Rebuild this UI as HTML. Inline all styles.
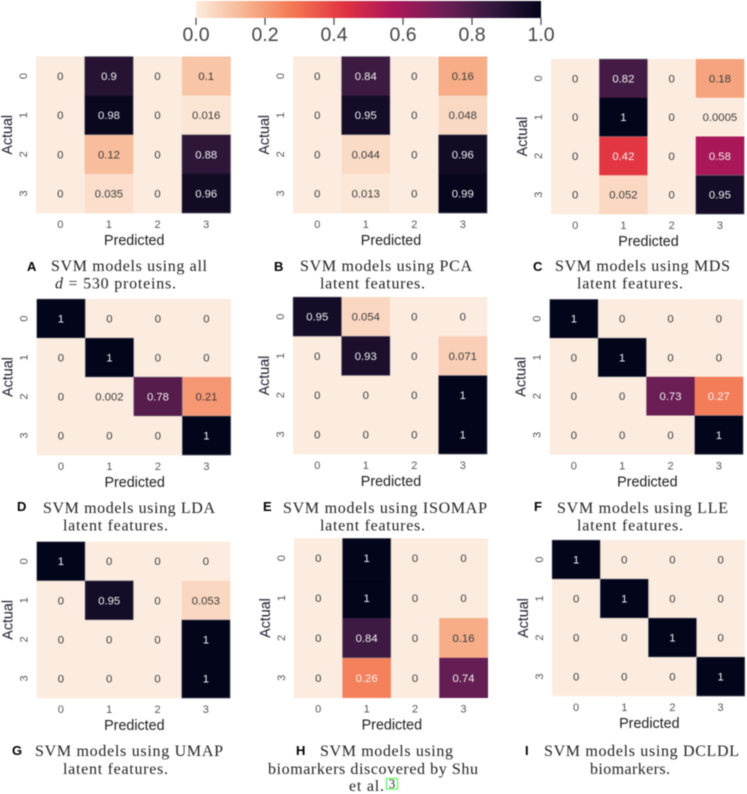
<!DOCTYPE html>
<html lang="en">
<head>
<meta charset="utf-8">
<title>SVM confusion matrices</title>
<style>
html,body{margin:0;padding:0;background:#fff;}
body{width:747px;height:794px;overflow:hidden;}
#figure{display:block;filter:blur(0.45px);}
.cap{font-family:"Liberation Serif","DejaVu Serif",serif;font-size:16px;fill:#222;}
.lab{font-family:"Liberation Sans","DejaVu Sans",sans-serif;font-size:13px;font-weight:bold;fill:#000;}
</style>
</head>
<body>
<svg id="figure" width="747" height="794" viewBox="0 0 747 794" xmlns="http://www.w3.org/2000/svg">
  <defs>
    <linearGradient id="cmap" x1="0" x2="1" y1="0" y2="0"></linearGradient>
  </defs>
  <g id="colorbar"></g>
  <g id="panels"></g>

  <g>
    <text class="lab" x="27" y="271">A</text>
    <text class="cap" x="51" y="271" textLength="156" lengthAdjust="spacing">SVM models using all</text>
    <text class="cap" x="55" y="288.5" textLength="121" lengthAdjust="spacing"><tspan font-style="italic">d</tspan> = 530 proteins.</text>
  </g>
  <g>
    <text class="lab" x="274" y="271">B</text>
    <text class="cap" x="300" y="271" textLength="172" lengthAdjust="spacing">SVM models using PCA</text>
    <text class="cap" x="320" y="288.5" textLength="105" lengthAdjust="spacing">latent features.</text>
  </g>
  <g>
    <text class="lab" x="533" y="271">C</text>
    <text class="cap" x="555" y="271" textLength="175" lengthAdjust="spacing">SVM models using MDS</text>
    <text class="cap" x="577" y="288.5" textLength="106" lengthAdjust="spacing">latent features.</text>
  </g>
  <g>
    <text class="lab" x="17" y="511">D</text>
    <text class="cap" x="43" y="513" textLength="172" lengthAdjust="spacing">SVM models using LDA</text>
    <text class="cap" x="63" y="530.5" textLength="105" lengthAdjust="spacing">latent features.</text>
  </g>
  <g>
    <text class="lab" x="263" y="511">E</text>
    <text class="cap" x="283" y="513" textLength="204" lengthAdjust="spacing">SVM models using ISOMAP</text>
    <text class="cap" x="320" y="530.5" textLength="105" lengthAdjust="spacing">latent features.</text>
  </g>
  <g>
    <text class="lab" x="534" y="511">F</text>
    <text class="cap" x="557" y="513" textLength="171" lengthAdjust="spacing">SVM models using LLE</text>
    <text class="cap" x="577" y="530.5" textLength="106" lengthAdjust="spacing">latent features.</text>
  </g>
  <g>
    <text class="lab" x="12" y="755">G</text>
    <text class="cap" x="35" y="756" textLength="188" lengthAdjust="spacing">SVM models using UMAP</text>
    <text class="cap" x="63" y="774" textLength="105" lengthAdjust="spacing">latent features.</text>
  </g>
  <g>
    <text class="lab" x="296" y="755">H</text>
    <text class="cap" x="320" y="756" textLength="133" lengthAdjust="spacing">SVM models using</text>
    <text class="cap" x="268" y="774" textLength="210" lengthAdjust="spacing">biomarkers discovered by Shu</text>
    <text class="cap" x="349" y="791" textLength="35" lengthAdjust="spacing">et al.</text>
    <rect x="386.5" y="778.5" width="11" height="10.5" fill="none" stroke="#3dff3d" stroke-width="1"></rect>
    <text x="392" y="788" text-anchor="middle" font-family="Liberation Serif, serif" font-size="13" fill="#2a2a2a">3</text>
  </g>
  <g>
    <text class="lab" x="525" y="755">I</text>
    <text class="cap" x="544" y="756" textLength="195" lengthAdjust="spacing">SVM models using DCLDL</text>
    <text class="cap" x="590" y="774" textLength="80" lengthAdjust="spacing">biomarkers.</text>
  </g>
</svg>

<script>
// ---- data ----
const predictedLabels = ["0", "1", "2", "3"];
const actualLabels = ["0", "1", "2", "3"];
const colorbarTicks = [0, 0.2, 0.4, 0.6, 0.8, 1];
const colormapStops = ["#fcecdf", "#f6b48f", "#f37651", "#e13342", "#ad1759", "#701f57", "#35193e", "#03051a"];

const panelA = [[0, 0.9, 0, 0.1], [0, 0.98, 0, 0.016], [0, 0.12, 0, 0.88], [0, 0.035, 0, 0.96]];
const panelB = [[0, 0.84, 0, 0.16], [0, 0.95, 0, 0.048], [0, 0.044, 0, 0.96], [0, 0.013, 0, 0.99]];
const panelC = [[0, 0.82, 0, 0.18], [0, 1, 0, 0.0005], [0, 0.42, 0, 0.58], [0, 0.052, 0, 0.95]];
const panelD = [[1, 0, 0, 0], [0, 1, 0, 0], [0, 0.002, 0.78, 0.21], [0, 0, 0, 1]];
const panelE = [[0.95, 0.054, 0, 0], [0, 0.93, 0, 0.071], [0, 0, 0, 1], [0, 0, 0, 1]];
const panelF = [[1, 0, 0, 0], [0, 1, 0, 0], [0, 0, 0.73, 0.27], [0, 0, 0, 1]];
const panelG = [[1, 0, 0, 0], [0, 0.95, 0, 0.053], [0, 0, 0, 1], [0, 0, 0, 1]];
const panelH = [[0, 1, 0, 0], [0, 1, 0, 0], [0, 0.84, 0, 0.16], [0, 0.26, 0, 0.74]];
const panelI = [[1, 0, 0, 0], [0, 1, 0, 0], [0, 0, 1, 0], [0, 0, 0, 1]];

// ---- layout (plot frames; separate from values) ----
const layouts = [
  {id: "a", data: panelA, left: 36, right: 230.5, top: 56.5, bottom: 213},
  {id: "b", data: panelB, left: 293, right: 487, top: 56.5, bottom: 213},
  {id: "c", data: panelC, left: 551, right: 744, top: 59, bottom: 214},
  {id: "d", data: panelD, left: 36.7, right: 230.7, top: 299, bottom: 455},
  {id: "e", data: panelE, left: 293, right: 487, top: 297, bottom: 454},
  {id: "f", data: panelF, left: 549.7, right: 743, top: 299.3, bottom: 454.3},
  {id: "g", data: panelG, left: 36.7, right: 230, top: 541.7, bottom: 698},
  {id: "h", data: panelH, left: 294, right: 487.7, top: 538.3, bottom: 697.7},
  {id: "i", data: panelI, left: 552, right: 744.7, top: 540, bottom: 696}
];

const NS = "http://www.w3.org/2000/svg";
const SANS = '"Liberation Sans","DejaVu Sans",sans-serif';
const DARK = 0.75;

function hexRgb(h) {
  return [1, 3, 5].map(function (i) { return parseInt(h.slice(i, i + 2), 16); });
}
function colorFor(v) {
  const t = Math.max(0, Math.min(1, v)) * (colormapStops.length - 1);
  const i = Math.min(Math.floor(t), colormapStops.length - 2);
  const f = t - i;
  const a = hexRgb(colormapStops[i]);
  const b = hexRgb(colormapStops[i + 1]);
  return "rgb(" + a.map(function (c, k) { return Math.round(c + (b[k] - c) * f); }).join(",") + ")";
}
function make(tag, attrs, text) {
  const el = document.createElementNS(NS, tag);
  Object.keys(attrs).forEach(function (k) { el.setAttribute(k, attrs[k]); });
  if (text !== undefined) el.textContent = text;
  return el;
}

// ---- colorbar ----
const gradient = document.getElementById("cmap");
colormapStops.forEach(function (c, i) {
  gradient.appendChild(make("stop", {offset: i / (colormapStops.length - 1), "stop-color": c}));
});
const colorbar = document.getElementById("colorbar");
const cbLeft = 196, cbRight = 541, cbTop = 1, cbBottom = 18;
function cbX(v) { return cbLeft + (cbRight - cbLeft) * v; }
const cbBar = make("rect", {x: cbLeft, y: cbTop, width: cbRight - cbLeft, height: cbBottom - cbTop, fill: "url(#cmap)"});


colorbar.appendChild(cbBar);
colorbarTicks.forEach(function (v) {
  const tick = make("line", {x1: cbX(v), x2: cbX(v), y1: cbBottom, y2: cbBottom + 7, stroke: "#444", "stroke-width": 1.2});
  
  
  colorbar.appendChild(tick);
  const label = make("text", {x: cbX(v), y: 41, "text-anchor": "middle", "font-family": SANS, "font-size": 19.5, fill: "#444"}, v.toFixed(1));
  
  
  colorbar.appendChild(label);
});

// ---- heatmaps ----
const panelsRoot = document.getElementById("panels");
function drawPanel(p) {
  const g = make("g", {});
  
  
  const colW = (p.right - p.left) / predictedLabels.length;
  const rowH = (p.bottom - p.top) / actualLabels.length;
  function xPos(col) { return p.left + col * colW; }
  function yPos(row) { return p.top + row * rowH; }
  function isDark(row, col) {
    return !!p.data[row] && p.data[row][col] > DARK;
  }
  function edge(x1, y1, x2, y2) {
    const line = make("line", {x1: x1, y1: y1, x2: x2, y2: y2, stroke: "#8a8a94", "stroke-width": 0.7, "stroke-opacity": 0.7});
    
    
    g.appendChild(line);
  }

  p.data.forEach(function (rowVals, row) {
    rowVals.forEach(function (v, col) {
      const cell = make("rect", {x: xPos(col), y: yPos(row), width: colW + 0.3, height: rowH + 0.3, fill: colorFor(v)});
      
      
      g.appendChild(cell);
    });
  });
  p.data.forEach(function (rowVals, row) {
    rowVals.forEach(function (v, col) {
      if (v > DARK) {
        if (!isDark(row - 1, col)) edge(xPos(col), yPos(row), xPos(col + 1), yPos(row));
        if (!isDark(row + 1, col)) edge(xPos(col), yPos(row + 1), xPos(col + 1), yPos(row + 1));
        if (!isDark(row, col - 1)) edge(xPos(col), yPos(row), xPos(col), yPos(row + 1));
        if (!isDark(row, col + 1)) edge(xPos(col + 1), yPos(row), xPos(col + 1), yPos(row + 1));
      }
      const note = make("text", {
        x: xPos(col + 0.5), y: yPos(row + 0.5) + 4,
        "text-anchor": "middle", "font-family": SANS, "font-size": 11.3,
        fill: v >= 0.25 ? "#f2f2f2" : "#3c3c3c"
      }, String(v));
      
      
      g.appendChild(note);
    });
  });
  predictedLabels.forEach(function (t, col) {
    const tick = make("text", {
      x: xPos(col + 0.5), y: p.bottom + 15,
      "text-anchor": "middle", "font-family": SANS, "font-size": 11, fill: "#555"
    }, t);
    
    
    g.appendChild(tick);
  });
  actualLabels.forEach(function (t, row) {
    const cx = p.left - 13;
    const cy = yPos(row + 0.5);
    const tick = make("text", {
      x: cx, y: cy, transform: "rotate(-90 " + cx + " " + cy + ")", dy: 4,
      "text-anchor": "middle", "font-family": SANS, "font-size": 11, fill: "#555"
    }, t);
    
    
    g.appendChild(tick);
  });
  const xTitle = make("text", {
    x: (p.left + p.right) / 2 + 1, y: p.bottom + 32,
    "text-anchor": "middle", "font-family": SANS, "font-size": 14.3, fill: "#1c1c1c"
  }, "Predicted");
  
  
  g.appendChild(xTitle);
  const bx = p.left - 24;
  const by = (p.top + p.bottom) / 2;
  const yTitle = make("text", {
    x: bx, y: by, transform: "rotate(-90 " + bx + " " + by + ")",
    "text-anchor": "middle", "font-family": SANS, "font-size": 14.3, fill: "#1c1c2c"
  }, "Actual");
  
  
  g.appendChild(yTitle);
  panelsRoot.appendChild(g);
}
layouts.forEach(drawPanel);
</script>
</body>
</html>
